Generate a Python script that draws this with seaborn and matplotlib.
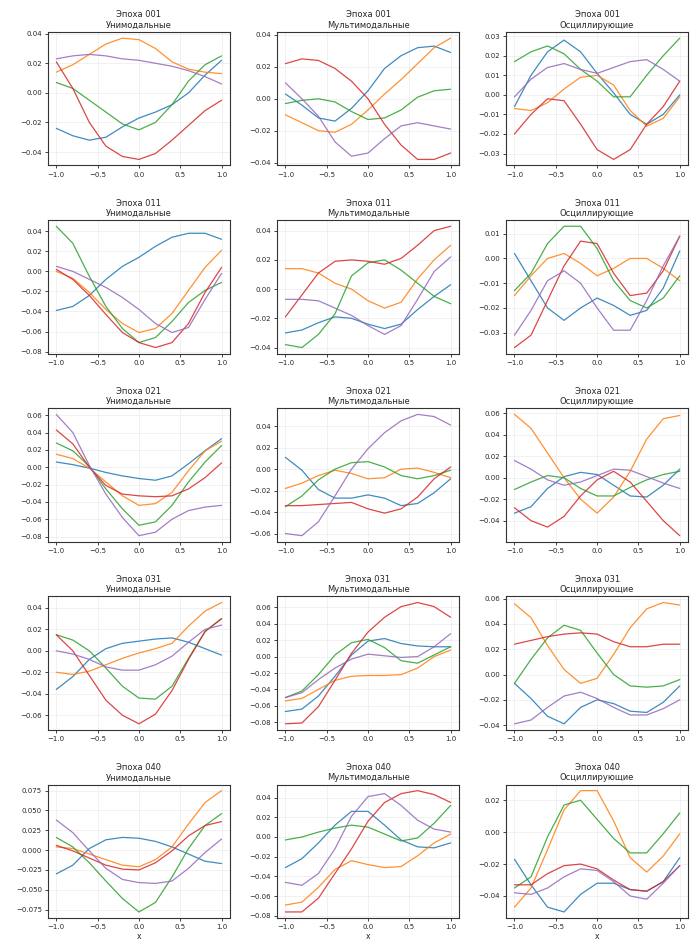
import seaborn as sns
import matplotlib
matplotlib.use("Agg")
from matplotlib import pyplot as plt
from matplotlib.ticker import MultipleLocator

# x positions where values were read
x_grid = [-1.0, -0.8, -0.6, -0.4, -0.2, 0.0, 0.2, 0.4, 0.6, 0.8, 1.0]

epochs = ['001', '011', '021', '031', '040']
kinds = ['Унимодальные', 'Мультимодальные', 'Осциллирующие']

# each panel: blue, orange, green, red, purple
e001_uni = [
    [-0.024, -0.029, -0.032, -0.030, -0.023, -0.017, -0.013, -0.008, 0.000, 0.012, 0.022],
    [0.014, 0.019, 0.026, 0.033, 0.037, 0.036, 0.030, 0.021, 0.016, 0.014, 0.013],
    [0.007, 0.003, -0.005, -0.013, -0.021, -0.025, -0.020, -0.008, 0.008, 0.019, 0.025],
    [0.021, 0.003, -0.020, -0.036, -0.043, -0.045, -0.041, -0.032, -0.022, -0.012, -0.005],
    [0.023, 0.025, 0.026, 0.025, 0.023, 0.022, 0.020, 0.018, 0.015, 0.011, 0.006],
]
e001_multi = [
    [0.003, -0.004, -0.012, -0.014, -0.006, 0.005, 0.019, 0.027, 0.032, 0.033, 0.029],
    [-0.010, -0.015, -0.020, -0.021, -0.016, -0.007, 0.003, 0.012, 0.022, 0.032, 0.038],
    [-0.003, -0.001, 0.000, -0.002, -0.008, -0.013, -0.012, -0.007, 0.001, 0.005, 0.006],
    [0.022, 0.025, 0.024, 0.019, 0.011, 0.000, -0.016, -0.029, -0.038, -0.038, -0.034],
    [0.010, 0.000, -0.011, -0.027, -0.036, -0.034, -0.025, -0.017, -0.015, -0.017, -0.019],
]
e001_osc = [
    [-0.006, 0.010, 0.022, 0.028, 0.022, 0.011, 0.001, -0.010, -0.015, -0.010, 0.000],
    [-0.007, -0.008, -0.004, 0.003, 0.009, 0.010, 0.005, -0.008, -0.016, -0.012, -0.001],
    [0.017, 0.022, 0.025, 0.021, 0.013, 0.007, -0.001, -0.001, 0.010, 0.020, 0.029],
    [-0.020, -0.010, -0.002, -0.003, -0.015, -0.028, -0.033, -0.028, -0.015, -0.006, 0.007],
    [-0.001, 0.008, 0.014, 0.016, 0.013, 0.011, 0.014, 0.017, 0.018, 0.013, 0.007],
]
e011_uni = [
    [-0.039, -0.035, -0.024, -0.008, 0.005, 0.014, 0.025, 0.034, 0.038, 0.038, 0.032],
    [0.000, -0.007, -0.021, -0.038, -0.052, -0.061, -0.057, -0.042, -0.019, 0.004, 0.021],
    [0.045, 0.028, -0.005, -0.035, -0.057, -0.071, -0.066, -0.050, -0.031, -0.019, -0.011],
    [0.002, -0.008, -0.024, -0.043, -0.061, -0.071, -0.076, -0.071, -0.052, -0.021, 0.004],
    [0.005, 0.000, -0.008, -0.016, -0.026, -0.038, -0.052, -0.061, -0.056, -0.028, -0.002],
]
e011_multi = [
    [-0.030, -0.028, -0.023, -0.019, -0.020, -0.024, -0.027, -0.024, -0.014, -0.005, 0.003],
    [0.014, 0.014, 0.011, 0.004, 0.000, -0.008, -0.013, -0.009, 0.007, 0.020, 0.030],
    [-0.038, -0.040, -0.031, -0.017, 0.009, 0.018, 0.020, 0.013, 0.004, -0.005, -0.010],
    [-0.019, -0.004, 0.011, 0.019, 0.020, 0.019, 0.017, 0.021, 0.030, 0.040, 0.043],
    [-0.007, -0.007, -0.008, -0.013, -0.018, -0.025, -0.031, -0.025, -0.007, 0.012, 0.022],
]
e011_osc = [
    [0.002, -0.009, -0.020, -0.025, -0.020, -0.016, -0.019, -0.023, -0.021, -0.012, 0.003],
    [-0.015, -0.007, 0.000, 0.002, -0.002, -0.007, -0.004, 0.000, 0.000, -0.004, -0.009],
    [-0.013, -0.006, 0.006, 0.013, 0.013, 0.004, -0.009, -0.017, -0.020, -0.016, -0.007],
    [-0.036, -0.031, -0.017, -0.003, 0.007, 0.006, -0.006, -0.015, -0.014, -0.005, 0.009],
    [-0.031, -0.021, -0.009, -0.005, -0.010, -0.020, -0.029, -0.029, -0.017, -0.003, 0.009],
]
e021_uni = [
    [0.006, 0.003, -0.001, -0.006, -0.010, -0.013, -0.015, -0.010, 0.004, 0.019, 0.033],
    [0.015, 0.010, -0.001, -0.017, -0.033, -0.044, -0.042, -0.029, -0.004, 0.019, 0.030],
    [0.028, 0.019, 0.001, -0.025, -0.048, -0.067, -0.063, -0.044, -0.017, 0.006, 0.025],
    [0.043, 0.027, 0.000, -0.021, -0.031, -0.033, -0.034, -0.033, -0.025, -0.012, 0.005],
    [0.061, 0.040, 0.002, -0.031, -0.058, -0.079, -0.075, -0.060, -0.050, -0.046, -0.044],
]
e021_multi = [
    [0.011, -0.001, -0.019, -0.027, -0.027, -0.024, -0.027, -0.034, -0.032, -0.022, -0.009],
    [-0.018, -0.013, -0.006, -0.001, -0.004, -0.009, -0.008, 0.000, 0.001, -0.003, -0.008],
    [-0.035, -0.025, -0.010, 0.000, 0.006, 0.007, 0.002, -0.006, -0.009, -0.006, -0.001],
    [-0.034, -0.034, -0.033, -0.032, -0.031, -0.037, -0.041, -0.037, -0.026, -0.009, 0.002],
    [-0.060, -0.062, -0.049, -0.025, 0.000, 0.019, 0.034, 0.045, 0.051, 0.049, 0.041],
]
e021_osc = [
    [-0.033, -0.027, -0.010, 0.001, 0.005, 0.003, -0.007, -0.017, -0.018, -0.007, 0.008],
    [0.059, 0.046, 0.023, 0.000, -0.020, -0.033, -0.018, 0.006, 0.036, 0.055, 0.058],
    [-0.011, -0.004, 0.002, 0.000, -0.010, -0.017, -0.017, -0.009, -0.002, 0.003, 0.006],
    [-0.028, -0.040, -0.046, -0.036, -0.017, -0.002, 0.006, -0.004, -0.022, -0.040, -0.054],
    [0.016, 0.008, -0.002, -0.007, -0.004, 0.002, 0.008, 0.007, 0.001, -0.005, -0.010],
]
e031_uni = [
    [-0.036, -0.024, -0.008, 0.002, 0.007, 0.009, 0.011, 0.012, 0.008, 0.002, -0.004],
    [-0.020, -0.022, -0.019, -0.013, -0.007, -0.002, 0.002, 0.007, 0.023, 0.037, 0.045],
    [0.015, 0.010, 0.000, -0.016, -0.033, -0.044, -0.045, -0.033, -0.007, 0.018, 0.030],
    [0.015, 0.000, -0.023, -0.046, -0.060, -0.068, -0.059, -0.037, -0.008, 0.018, 0.030],
    [0.000, -0.003, -0.008, -0.015, -0.018, -0.018, -0.013, -0.005, 0.008, 0.020, 0.024],
]
e031_multi = [
    [-0.067, -0.064, -0.048, -0.024, 0.002, 0.019, 0.022, 0.016, 0.013, 0.012, 0.012],
    [-0.054, -0.051, -0.040, -0.029, -0.024, -0.023, -0.023, -0.022, -0.014, 0.000, 0.008],
    [-0.050, -0.042, -0.022, 0.002, 0.017, 0.021, 0.011, -0.005, -0.008, 0.002, 0.012],
    [-0.082, -0.081, -0.061, -0.029, 0.004, 0.030, 0.048, 0.061, 0.066, 0.061, 0.048],
    [-0.050, -0.044, -0.028, -0.014, -0.003, 0.003, 0.001, -0.001, 0.000, 0.012, 0.028],
]
e031_osc = [
    [-0.007, -0.019, -0.033, -0.039, -0.026, -0.020, -0.023, -0.029, -0.030, -0.022, -0.009],
    [0.056, 0.045, 0.023, 0.004, -0.007, -0.003, 0.016, 0.037, 0.052, 0.057, 0.055],
    [-0.007, 0.012, 0.029, 0.039, 0.035, 0.017, 0.000, -0.009, -0.010, -0.009, -0.004],
    [0.024, 0.027, 0.030, 0.032, 0.033, 0.032, 0.026, 0.022, 0.022, 0.024, 0.024],
    [-0.039, -0.036, -0.026, -0.017, -0.014, -0.019, -0.026, -0.032, -0.032, -0.027, -0.020],
]
e040_uni = [
    [-0.030, -0.019, 0.002, 0.013, 0.016, 0.015, 0.011, 0.004, -0.005, -0.014, -0.017],
    [0.004, 0.002, -0.005, -0.012, -0.019, -0.021, -0.012, 0.004, 0.033, 0.060, 0.075],
    [0.016, 0.004, -0.016, -0.039, -0.061, -0.078, -0.066, -0.034, 0.002, 0.031, 0.046],
    [0.006, -0.001, -0.010, -0.019, -0.024, -0.025, -0.016, -0.001, 0.018, 0.031, 0.036],
    [0.038, 0.022, -0.001, -0.023, -0.037, -0.041, -0.042, -0.039, -0.023, -0.003, 0.014],
]
e040_multi = [
    [-0.031, -0.022, -0.006, 0.012, 0.026, 0.026, 0.012, -0.003, -0.010, -0.011, -0.006],
    [-0.069, -0.066, -0.051, -0.033, -0.024, -0.028, -0.031, -0.030, -0.019, -0.006, 0.003],
    [-0.003, 0.000, 0.005, 0.009, 0.012, 0.010, 0.003, -0.004, -0.001, 0.014, 0.032],
    [-0.076, -0.076, -0.062, -0.037, -0.012, 0.016, 0.035, 0.044, 0.047, 0.043, 0.035],
    [-0.046, -0.049, -0.037, -0.012, 0.021, 0.041, 0.044, 0.032, 0.017, 0.008, 0.005],
]
e040_osc = [
    [-0.017, -0.033, -0.047, -0.050, -0.039, -0.032, -0.032, -0.036, -0.037, -0.031, -0.016],
    [-0.047, -0.035, -0.011, 0.014, 0.026, 0.026, 0.007, -0.016, -0.025, -0.015, -0.001],
    [-0.035, -0.028, -0.003, 0.017, 0.020, 0.008, -0.004, -0.013, -0.013, -0.001, 0.012],
    [-0.033, -0.033, -0.026, -0.021, -0.020, -0.023, -0.030, -0.036, -0.037, -0.031, -0.021],
    [-0.038, -0.039, -0.035, -0.028, -0.023, -0.024, -0.031, -0.040, -0.042, -0.032, -0.021],
]

panels = [
    [e001_uni, e001_multi, e001_osc],
    [e011_uni, e011_multi, e011_osc],
    [e021_uni, e021_multi, e021_osc],
    [e031_uni, e031_multi, e031_osc],
    [e040_uni, e040_multi, e040_osc],
]

# y tick spacing per panel, as in the original
y_steps = [
    [0.02, 0.02, 0.01],
    [0.02, 0.02, 0.01],
    [0.02, 0.02, 0.02],
    [0.02, 0.02, 0.02],
    [0.025, 0.02, 0.02],
]

sns.set_style("ticks", {"axes.grid": True, "grid.color": "#ebebeb",
                        "axes.edgecolor": "#333333"})
plt.rcParams['font.family'] = ['DejaVu Sans']
colors = sns.color_palette("tab10", 5)

fig, axes = plt.subplots(5, 3, figsize=(6.91, 9.43), dpi=100)
fig.subplots_adjust(left=0.0695, right=0.9957, top=0.966, bottom=0.0265,
                    wspace=0.26, hspace=0.41)

for r, ep in enumerate(epochs):
    for c, kind in enumerate(kinds):
        ax = axes[r, c]
        for i, ys in enumerate(panels[r][c]):
            sns.lineplot(x=x_grid, y=ys, ax=ax, color=colors[i], lw=0.9,
                         alpha=0.85, legend=False)
        ax.set_title(f'Эпоха {ep}\n{kind}', fontsize=6, pad=3, linespacing=1.2)
        ax.set_xticks([-1.0, -0.5, 0.0, 0.5, 1.0])
        ax.yaxis.set_major_locator(MultipleLocator(y_steps[r][c]))
        ax.tick_params(labelsize=5, length=2.5, width=0.6, pad=2)
        ax.grid(True, lw=0.5)
        for s in ax.spines.values():
            s.set_linewidth(0.8)
        if r == len(epochs) - 1:
            ax.set_xlabel('x', fontsize=5.5, labelpad=1)

fig.savefig('out.png', dpi=100)
